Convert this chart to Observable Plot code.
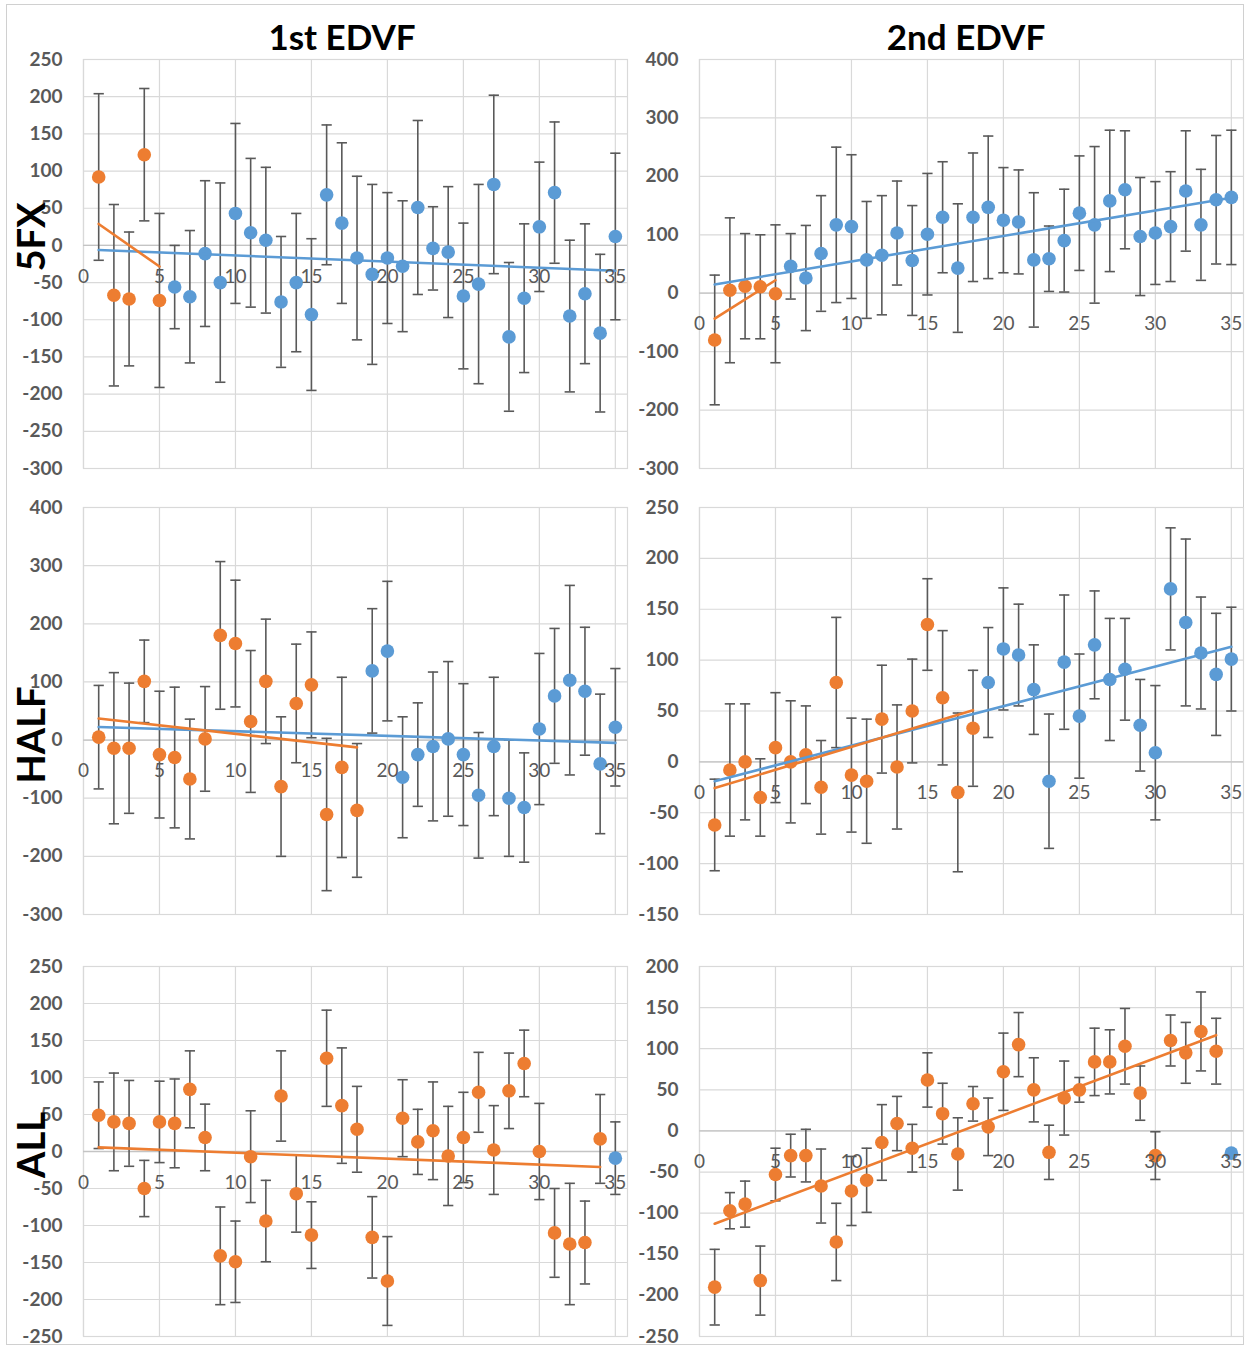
<!DOCTYPE html>
<html><head><meta charset="utf-8">
<script src="https://cdn.jsdelivr.net/npm/d3@7"></script>
<script src="https://cdn.jsdelivr.net/npm/@observablehq/plot@0.6"></script>
<style>
body{margin:0;background:#fff;}
#root{position:relative;width:1249px;height:1347px;overflow:hidden;font-family:Lato,"Open Sans",sans-serif;background:#fff;}
.panel{position:absolute;}
.panel g[aria-label="y-axis tick label"]{font-weight:700;}
.title{position:absolute;font-weight:700;font-size:35px;color:#000;transform:translateX(-50%);white-space:nowrap;line-height:1;}
.row{position:absolute;font-weight:700;font-size:38px;color:#000;transform:translate(-50%,-50%) rotate(-90deg);white-space:nowrap;z-index:5;line-height:1;}
#border{position:absolute;left:6px;top:4px;width:1238px;height:1341px;border:1px solid #d0d0d0;box-sizing:border-box;}
</style></head><body><div id="root"><div id="border"></div></div>
<script>
// ---------- data ----------
const visits = [1,2,3,4,5,6,7,8,9,10,11,12,13,14,15,16,17,18,19,20,21,22,23,24,25,26,27,28,29,30,31,32,33,34,35];
const xTicks = [0,5,10,15,20,25,30,35];
const columnTitles = ["1st EDVF","2nd EDVF"];
const rowTitles = ["5FX","HALF","ALL"];

const yTicks5fx1 = [250,200,150,100,50,0,-50,-100,-150,-200,-250,-300];
const yTicks5fx2 = [400,300,200,100,0,-100,-200,-300];
const yTicksHalf1 = [400,300,200,100,0,-100,-200,-300];
const yTicksHalf2 = [250,200,150,100,50,0,-50,-100,-150];
const yTicksAll1 = [250,200,150,100,50,0,-50,-100,-150,-200,-250];
const yTicksAll2 = [200,150,100,50,0,-50,-100,-150,-200,-250];

const mean5fx1 = [92,-67,-72,122,-74,-56,-69,-11,-50,43,17,7,-76,-50,-93,68,30,-17,-39,-17,-28,51,-4,-9,-68,-52,82,-123,-71,25,71,-95,-65,-118,12];
const err5fx1  = [112,122,90,89,117,56,89,98,134,121,100,98,88,93,102,94,108,110,121,88,88,117,56,88,98,134,120,100,100,87,95,102,94,106,112];
const mean5fx2 = [-80,5,12,11,-1,46,26,68,117,114,57,65,103,56,101,130,43,130,147,125,122,57,59,90,137,117,158,177,97,103,114,175,117,160,164];
const err5fx2  = [111,124,90,89,118,56,90,99,133,123,100,102,89,94,104,95,110,110,122,90,89,115,56,88,98,134,121,101,101,88,94,103,95,110,115];
const meanHalf1 = [5,-14,-14,101,-25,-30,-67,2,180,166,32,101,-80,63,95,-128,-47,-121,119,153,-64,-25,-11,2,-25,-95,-11,-100,-116,19,76,103,84,-41,22];
const errHalf1  = [89,130,112,71,109,121,103,90,127,109,122,107,120,102,91,131,155,115,107,120,104,89,128,133,122,108,119,100,94,130,116,163,110,120,101];
const meanHalf2 = [-62,-8,0,-35,14,0,7,-25,78,-13,-19,42,-5,50,135,63,-30,33,78,111,105,71,-19,98,45,115,81,91,36,9,170,137,107,86,101];
const errHalf2  = [45,65,57,38,54,60,48,46,64,56,61,53,61,51,45,66,78,57,54,60,50,44,66,66,61,53,60,50,45,66,60,82,55,60,51];
const meanAll1 = [49,40,38,-50,40,38,84,19,-141,-149,-7,-94,75,-57,-113,126,62,30,-116,-175,45,13,28,-6,19,80,2,82,119,0,-110,-125,-123,17,-9];
const errAll1  = [45,66,58,38,55,60,52,45,66,55,62,55,61,52,45,65,78,58,55,60,52,44,66,67,61,54,60,51,45,65,60,82,56,60,49];
const meanAll2 = [-190,-97,-89,-182,-53,-30,-30,-67,-135,-73,-60,-14,9,-21,62,21,-28,33,5,72,105,50,-26,40,50,84,84,103,46,-30,110,95,121,97,-27];
const errAll2  = [46,22,28,42,32,26,32,45,47,42,39,46,33,29,33,37,44,21,35,47,39,39,33,45,15,41,39,46,33,29,31,37,48,40,null];

// number of leading points in the orange series, per panel
const orangeCounts = [5,5,18,18,34,34];
const blueTrendShown = [true,true,true,true,false,false];

// ---------- layout ----------
const ORANGE = "#ED7D31", BLUE = "#5B9BD5", BAR = "#595959", GRID = "#d9d9d9", LABEL = "#595959";
const cols = [
  {left:0,   width:640, mL:83, mR:13},
  {left:630, width:619, mL:69, mR:6}
];
const rows = [
  {top:45,  height:435, mT:14, mB:12},
  {top:493, height:435, mT:14, mB:14},
  {top:952, height:395, mT:14, mB:11}
];
const panels = [
  {r:0,c:0,mean:mean5fx1,err:err5fx1,ticks:yTicks5fx1},
  {r:0,c:1,mean:mean5fx2,err:err5fx2,ticks:yTicks5fx2},
  {r:1,c:0,mean:meanHalf1,err:errHalf1,ticks:yTicksHalf1},
  {r:1,c:1,mean:meanHalf2,err:errHalf2,ticks:yTicksHalf2},
  {r:2,c:0,mean:meanAll1,err:errAll1,ticks:yTicksAll1},
  {r:2,c:1,mean:meanAll2,err:errAll2,ticks:yTicksAll2}
];

const capSymbol = {draw(ctx, size){ const w = Math.sqrt(size); ctx.moveTo(-w,0); ctx.lineTo(w,0); }};
const root = document.getElementById("root");

panels.forEach((p, k) => {
  const col = cols[p.c], row = rows[p.r];
  const nO = orangeCounts[k];
  const data = visits.map((v,i) => ({x:v, y:p.mean[i], e:p.err[i], s: i < nO ? "o" : "b"}));
  const orange = data.filter(d => d.s === "o");
  const blue = data.filter(d => d.s === "b");
  const withErr = data.filter(d => d.e != null);
  const yDomain = [d3.min(p.ticks), d3.max(p.ticks)];
  const chart = Plot.plot({
    width: col.width, height: row.height,
    marginLeft: col.mL, marginRight: col.mR, marginTop: row.mT, marginBottom: row.mB,
    style: {fontFamily: "Lato, 'Open Sans', sans-serif", background: "transparent", overflow: "visible"},
    x: {domain: [0, 35.8], axis: null},
    y: {domain: yDomain, axis: null},
    marks: [
      Plot.gridX(xTicks, {stroke: GRID, strokeOpacity: 1, strokeWidth: 1.2}),
      Plot.gridY(p.ticks, {stroke: GRID, strokeOpacity: 1, strokeWidth: 1.2}),
      Plot.frame({stroke: GRID, strokeWidth: 1.2}),
      Plot.ruleY([0], {stroke: "#c4c4c4", strokeWidth: 1.3}),
      Plot.axisY(p.ticks, {label: null, tickSize: 0, tickPadding: 21, tickFormat: d => String(d), fontSize: 19, fontWeight: 700, fill: LABEL}),
      Plot.ruleX(withErr, {x: "x", y1: d => d.y - d.e, y2: d => d.y + d.e, stroke: BAR, strokeWidth: 1.6}),
      Plot.dot(withErr, {x: "x", y: d => d.y + d.e, symbol: capSymbol, r: 2.9, fill: "none", stroke: BAR, strokeWidth: 1.6}),
      Plot.dot(withErr, {x: "x", y: d => d.y - d.e, symbol: capSymbol, r: 2.9, fill: "none", stroke: BAR, strokeWidth: 1.6}),
      Plot.dot(blue, {x: "x", y: "y", r: 6.8, fill: BLUE}),
      Plot.dot(orange, {x: "x", y: "y", r: 6.8, fill: ORANGE}),
      blueTrendShown[k] ? Plot.linearRegressionY(data, {x: "x", y: "y", stroke: BLUE, strokeWidth: 2.6, ci: 0}) : null,
      Plot.linearRegressionY(orange, {x: "x", y: "y", stroke: ORANGE, strokeWidth: 2.6, ci: 0}),
      Plot.text(xTicks, {x: d => d, y: 0, dy: 31, text: d => String(d), fontSize: 19, fill: LABEL})
    ]
  });
  chart.classList.add("panel");
  chart.style.left = col.left + "px";
  chart.style.top = row.top + "px";
  root.appendChild(chart);
});

// column titles
[342, 966].forEach((cx, i) => {
  const t = document.createElement("div");
  t.className = "title";
  t.textContent = columnTitles[i];
  t.style.left = cx + "px";
  t.style.top = "19px";
  root.appendChild(t);
});
// row titles
[237, 735, 1145].forEach((cy, i) => {
  const t = document.createElement("div");
  t.className = "row";
  t.textContent = rowTitles[i];
  t.style.left = "30px";
  t.style.top = cy + "px";
  root.appendChild(t);
});
</script></body></html>
